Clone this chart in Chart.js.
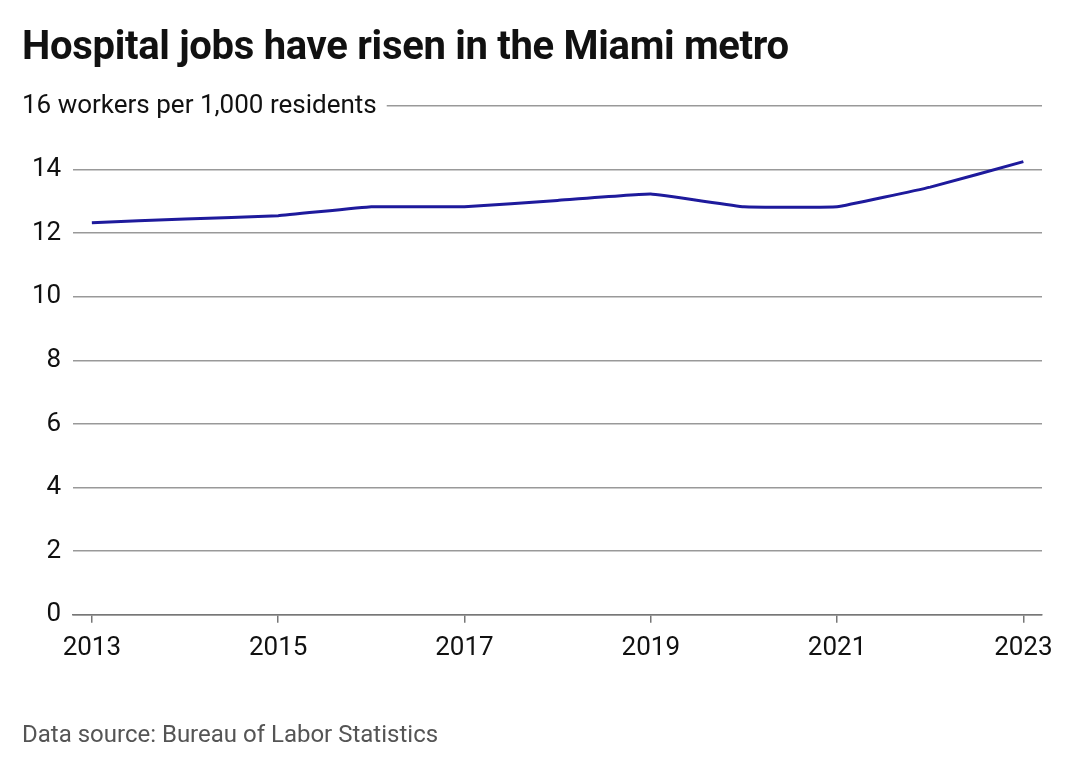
<!DOCTYPE html>
<html>
<head>
<meta charset="utf-8">
<script src="https://cdn.jsdelivr.net/npm/chart.js@4"></script>
<style>
  body { margin: 0; background: #fff; font-family: Roboto, sans-serif; }
  #wrap { position: relative; width: 1080px; height: 770px; }
  #title { position: absolute; left: 22px; top: 22px; font-size: 40px; font-weight: bold; color: #111; letter-spacing: -0.3px; }
  #source { position: absolute; left: 22px; top: 720px; font-size: 24px; color: #555; }
  canvas { position: absolute; left: 0; top: 0; }
</style>
</head>
<body>
<div id="wrap">
  <canvas id="chart" width="1080" height="770"></canvas>
  <div id="title">Hospital jobs have risen in the Miami metro</div>
  <div id="source">Data source: Bureau of Labor Statistics</div>
</div>
<script>
var years = [2013, 2014, 2015, 2016, 2017, 2018, 2019, 2020, 2021, 2022, 2023];
var workers = [12.33, 12.45, 12.55, 12.83, 12.83, 13.03, 13.23, 12.83, 12.83, 13.45, 14.25];
var xTicks = [2013, 2015, 2017, 2019, 2021, 2023];
var yTicks = [0, 2, 4, 6, 8, 10, 12, 14, 16];
var topLabel = "16 workers per 1,000 residents";

var points = years.map(function (y, i) { return { x: y, y: workers[i] }; });

// draws the unit label over the top gridline
var topLabelPlugin = {
  id: "topLabel",
  afterDraw: function (chart) {
    var ctx = chart.ctx;
    var y = chart.scales.y.getPixelForValue(16);
    ctx.save();
    ctx.font = "26px Roboto";
    var w = ctx.measureText(topLabel).width;
    ctx.fillStyle = "#fff";
    ctx.fillRect(0, y - 18, 22 + w + 10, 36);
    ctx.fillStyle = "#111";
    ctx.textBaseline = "middle";
    ctx.fillText(topLabel, 22, y);
    ctx.restore();
  }
};

new Chart(document.getElementById("chart").getContext("2d"), {
  type: "line",
  data: {
    datasets: [{
      data: points,
      borderColor: "#1e1a9c",
      borderWidth: 3,
      pointRadius: 0,
      tension: 0.08
    }]
  },
  options: {
    responsive: false,
    animation: false,
    layout: { padding: { top: 106, left: 20, right: 38, bottom: 96 } },
    plugins: { legend: { display: false }, tooltip: { enabled: false } },
    scales: {
      x: {
        type: "linear",
        min: 2012.8,
        max: 2023.2,
        afterBuildTicks: function (s) { s.ticks = xTicks.map(function (v) { return { value: v }; }); },
        grid: { drawOnChartArea: false, drawTicks: true, tickLength: 8, color: "#777", lineWidth: 1.5 },
        border: { color: "#777", width: 1.5 },
        ticks: { font: { family: "Roboto", size: 26 }, color: "#111", padding: 10, maxRotation: 0,
          callback: function (v) { return String(v); } }
      },
      y: {
        min: 0,
        max: 16,
        afterBuildTicks: function (s) { s.ticks = yTicks.map(function (v) { return { value: v }; }); },
        grid: { color: "#999", lineWidth: 1.5, drawTicks: false },
        border: { display: false },
        ticks: { font: { family: "Roboto", size: 26 }, color: "#111", padding: 12,
          callback: function (v) { return v === 16 ? "" : String(v); } }
      }
    }
  },
  plugins: [topLabelPlugin]
});
</script>
</body>
</html>
